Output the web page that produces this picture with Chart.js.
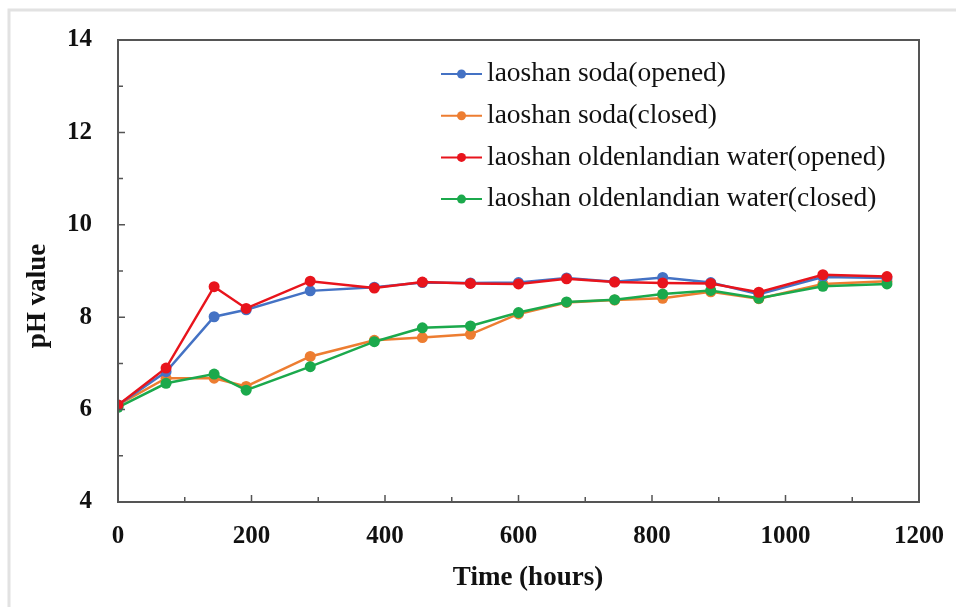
<!DOCTYPE html>
<html>
<head>
<meta charset="utf-8">
<script src="https://cdn.jsdelivr.net/npm/chart.js@4"></script>
<style>
  html, body { margin: 0; padding: 0; background: #fff; }
  #wrap { width: 956px; height: 607px; }
</style>
</head>
<body>
<div id="wrap"><canvas id="phChart" width="956" height="607"></canvas></div>
<script>
// sampling times (hours)
const hours = [0, 72, 144, 192, 288, 384, 456, 528, 600, 672, 744, 816, 888, 960, 1056, 1152];

// pH readings
const sodaOpened = [6.1, 6.82, 8.01, 8.16, 8.57, 8.65, 8.75, 8.74, 8.75, 8.85, 8.77, 8.86, 8.75, 8.5, 8.87, 8.85];
const sodaClosed = [6.1, 6.68, 6.68, 6.5, 7.15, 7.5, 7.56, 7.63, 8.07, 8.32, 8.37, 8.41, 8.55, 8.4, 8.72, 8.78];
const waterOpened = [6.1, 6.9, 8.66, 8.19, 8.78, 8.63, 8.76, 8.73, 8.72, 8.83, 8.76, 8.74, 8.73, 8.54, 8.92, 8.88];
const waterClosed = [6.05, 6.57, 6.77, 6.42, 6.93, 7.47, 7.77, 7.81, 8.1, 8.33, 8.38, 8.5, 8.58, 8.41, 8.67, 8.72];

const seriesNames = [
  'laoshan soda(opened)',
  'laoshan soda(closed)',
  'laoshan oldenlandian water(opened)',
  'laoshan oldenlandian water(closed)'
];

const serif = '"Liberation Serif", "Times New Roman", serif';
const axisColor = '#555';

function points(values) {
  return hours.map((h, i) => ({ x: h, y: values[i] }));
}

function makeSet(name, values, color, order) {
  return {
    label: name, data: points(values), borderColor: color, backgroundColor: color,
    borderWidth: 2.5, pointRadius: 5.5, pointHoverRadius: 5.5, pointBorderWidth: 0,
    tension: 0, order: order
  };
}

// frame, inward ticks, titles and the in-plot legend
const decorations = {
  id: 'decorations',
  beforeDraw(chart) {
    const ctx = chart.ctx;
    ctx.save();
    ctx.fillStyle = '#fff';
    ctx.fillRect(0, 0, chart.width, chart.height);
    ctx.strokeStyle = '#e2e2e2';
    ctx.lineWidth = 3;
    ctx.beginPath();
    ctx.moveTo(9, chart.height);
    ctx.lineTo(9, 10);
    ctx.lineTo(chart.width, 10);
    ctx.stroke();
    ctx.restore();
  },
  afterDraw(chart) {
    const ctx = chart.ctx;
    const a = chart.chartArea;
    const xs = chart.scales.x, ys = chart.scales.y;
    ctx.save();
    ctx.strokeStyle = axisColor;
    ctx.lineWidth = 2;
    ctx.strokeRect(a.left, a.top, a.right - a.left, a.bottom - a.top);

    ctx.lineWidth = 1.5;
    ctx.beginPath();
    for (let v = 0; v <= 1200; v += 100) {
      const px = xs.getPixelForValue(v);
      const len = v % 200 === 0 ? 7 : 5;
      ctx.moveTo(px, a.bottom);
      ctx.lineTo(px, a.bottom - len);
    }
    for (let v = 4; v <= 14; v += 1) {
      const py = ys.getPixelForValue(v);
      const len = v % 2 === 0 ? 7 : 5;
      ctx.moveTo(a.left, py);
      ctx.lineTo(a.left + len, py);
    }
    ctx.stroke();

    // axis titles
    ctx.fillStyle = '#111';
    ctx.font = 'bold 27px ' + serif;
    ctx.textAlign = 'center';
    ctx.textBaseline = 'middle';
    ctx.fillText('Time (hours)', 528, 578);
    ctx.translate(38, 296);
    ctx.rotate(-Math.PI / 2);
    ctx.fillText('pH value', 0, 0);
    ctx.setTransform(1, 0, 0, 1, 0, 0);

    // legend
    ctx.font = '27.5px ' + serif;
    ctx.textAlign = 'left';
    chart.data.datasets.forEach((ds, i) => {
      const y = 74 + i * 41.7;
      ctx.strokeStyle = ds.borderColor;
      ctx.fillStyle = ds.borderColor;
      ctx.lineWidth = 2;
      ctx.beginPath();
      ctx.moveTo(441, y);
      ctx.lineTo(482, y);
      ctx.stroke();
      ctx.beginPath();
      ctx.arc(461.5, y, 4.5, 0, Math.PI * 2);
      ctx.fill();
      ctx.fillStyle = '#111';
      ctx.fillText(ds.label, 487, y);
    });
    ctx.restore();
  }
};

new Chart(document.getElementById('phChart').getContext('2d'), {
  type: 'line',
  data: {
    datasets: [
      makeSet(seriesNames[0], sodaOpened, '#4472C4', 2),
      makeSet(seriesNames[1], sodaClosed, '#ED7D31', 3),
      makeSet(seriesNames[2], waterOpened, '#E8141C', 0),
      makeSet(seriesNames[3], waterClosed, '#1BA94C', 1)
    ]
  },
  options: {
    responsive: false,
    animation: false,
    layout: { padding: { left: 0, right: 37, top: 40, bottom: 0 } },
    plugins: { legend: { display: false }, tooltip: { enabled: false } },
    scales: {
      x: {
        type: 'linear', min: 0, max: 1200,
        ticks: {
          stepSize: 200, color: '#111', padding: 12,
          font: { family: serif, size: 25, weight: 'bold' },
          callback: v => String(v)
        },
        grid: { display: false },
        border: { display: true, color: axisColor, width: 2 },
        afterFit(scale) { scale.height = 105; }
      },
      y: {
        min: 4, max: 14,
        ticks: { stepSize: 2, color: '#111', padding: 18, font: { family: serif, size: 25, weight: 'bold' } },
        grid: { display: false },
        border: { display: true, color: axisColor, width: 2 },
        afterFit(scale) { scale.width = 118; }
      }
    }
  },
  plugins: [decorations]
});
</script>
</body>
</html>
